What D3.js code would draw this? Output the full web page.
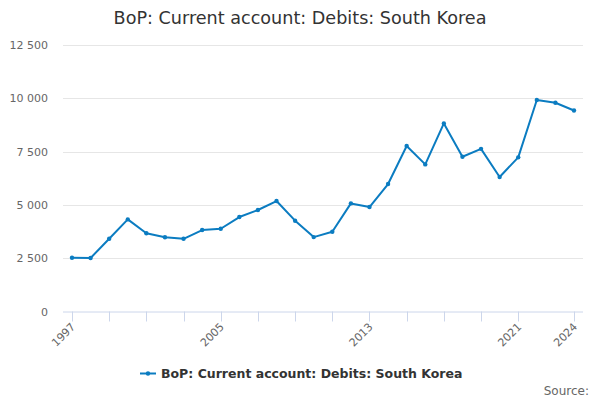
<!DOCTYPE html>
<html><head><meta charset="utf-8">
<script src="https://cdn.jsdelivr.net/npm/d3@7"></script>
<style>
body{margin:0;background:#fff;}
svg{font-family:"DejaVu Sans",sans-serif;display:block;}
</style></head>
<body><svg id="c" width="600" height="400"></svg>
<script>
const title = "BoP: Current account: Debits: South Korea";
const seriesName = "BoP: Current account: Debits: South Korea";
const years = [1997,1998,1999,2000,2001,2002,2003,2004,2005,2006,2007,2008,2009,2010,2011,2012,2013,2014,2015,2016,2017,2018,2019,2020,2021,2022,2023,2024];
const values = [2520,2510,3410,4320,3670,3480,3410,3820,3880,4430,4760,5180,4260,3490,3740,5070,4900,5980,7760,6900,8820,7260,7630,6310,7230,9920,9790,9430];
const yTicks = [0,2500,5000,7500,10000,12500];
const xTicks = [1997,1999,2001,2003,2005,2007,2009,2011,2013,2015,2017,2019,2021,2024];
const xLabels = [1997,2005,2013,2021,2024];

const svg = d3.select("#c");
const L = 63, R = 583, T = 45, B = 311.5;
const x = d3.scaleLinear().domain([1997,2024]).range([72,574]);
const y = d3.scaleLinear().domain([0,12500]).range([B,T]);
const fmt = v => d3.format(",")(v).replace(/,/g," ");

svg.append("text").attr("x",300).attr("y",24).attr("text-anchor","middle")
  .attr("font-size",17.6).attr("fill","#333").text(title);

// grid
svg.append("g").selectAll("line").data(yTicks.filter(d=>d>0)).join("line")
  .attr("x1",L).attr("x2",R).attr("y1",d=>Math.round(y(d))+0.5).attr("y2",d=>Math.round(y(d))+0.5)
  .attr("stroke","#e6e6e6").attr("stroke-width",1);
svg.append("g").selectAll("text").data(yTicks).join("text")
  .attr("x",48).attr("y",d=>y(d)+4).attr("text-anchor","end")
  .attr("font-size",11).attr("fill","#666").text(d=>fmt(d));

// x axis
svg.append("line").attr("x1",L).attr("x2",R).attr("y1",B+0.5).attr("y2",B+0.5).attr("stroke","#ccd6eb");
svg.append("g").selectAll("line").data(xTicks).join("line")
  .attr("x1",d=>Math.round(x(d))+0.5).attr("x2",d=>Math.round(x(d))+0.5)
  .attr("y1",B).attr("y2",B+10).attr("stroke","#ccd6eb");
svg.append("g").selectAll("text").data(xLabels).join("text")
  .attr("transform",d=>`translate(${x(d)+4},${B+16}) rotate(-45)`)
  .attr("text-anchor","end").attr("font-size",11).attr("fill","#666").text(d=>d);

// line
const color = "#0b7cc1";
svg.append("path").datum(years.map((yr,i)=>[yr,values[i]]))
  .attr("fill","none").attr("stroke",color).attr("stroke-width",2).attr("stroke-linejoin","round")
  .attr("d",d3.line().x(d=>x(d[0])).y(d=>y(d[1])));
svg.append("g").selectAll("circle").data(years.map((yr,i)=>[yr,values[i]])).join("circle")
  .attr("cx",d=>x(d[0])).attr("cy",d=>y(d[1])).attr("r",2.2).attr("fill",color);

// legend
svg.append("line").attr("x1",140).attr("x2",156).attr("y1",373.5).attr("y2",373.5).attr("stroke",color).attr("stroke-width",2);
svg.append("circle").attr("cx",148).attr("cy",373.5).attr("r",2.2).attr("fill",color);
svg.append("text").attr("x",161).attr("y",378).attr("font-size",12.5).attr("font-weight","bold").attr("fill","#333").text(seriesName);

svg.append("text").attr("x",589).attr("y",395).attr("text-anchor","end").attr("font-size",12).attr("fill","#666").text("Source:");
</script></body></html>
